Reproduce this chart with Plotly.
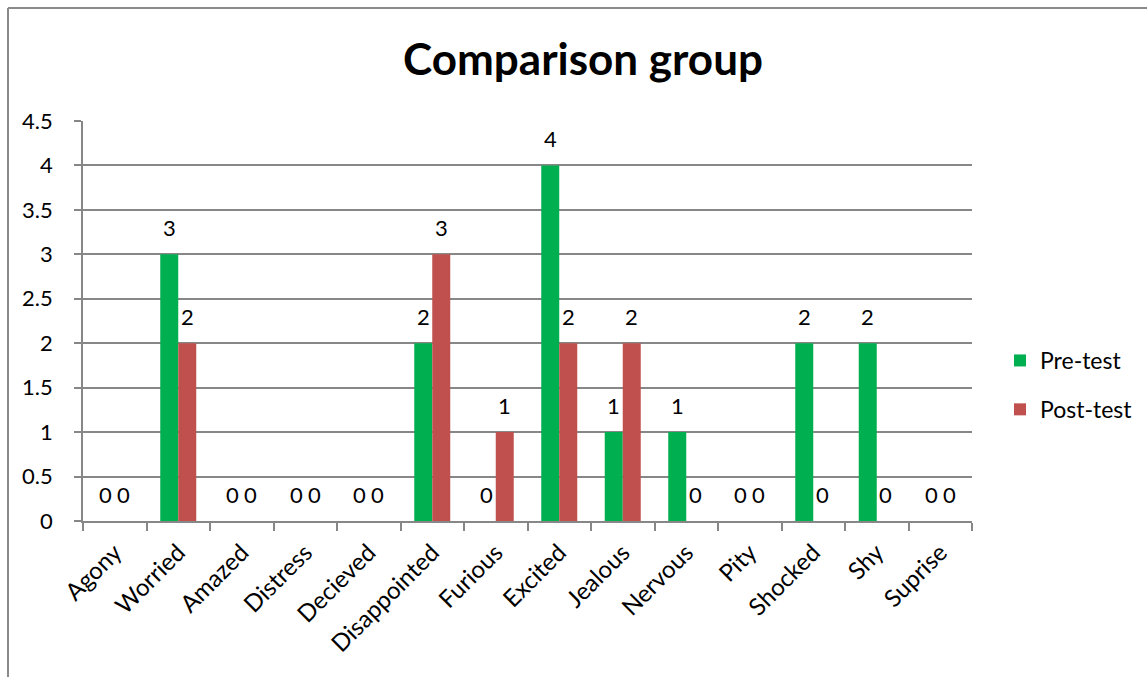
import plotly.graph_objects as go

# Emotion categories and counts for the comparison group
emotions = ["Agony", "Worried", "Amazed", "Distress", "Decieved", "Disappointed",
            "Furious", "Excited", "Jealous", "Nervous", "Pity", "Shocked", "Shy", "Suprise"]
pre_test = [0, 3, 0, 0, 0, 2, 0, 4, 1, 1, 0, 2, 2, 0]
post_test = [0, 2, 0, 0, 0, 3, 1, 2, 2, 0, 0, 0, 0, 0]
y_ticks = [0, 0.5, 1, 1.5, 2, 2.5, 3, 3.5, 4, 4.5]

FONT = "Lato, Carlito, 'Open Sans', sans-serif"
GRID = "#878787"

W, H = 1147, 677
L, R, T, B = 83, 175, 121, 156
pw, ph = W - L - R, H - T - B
BARGAP = 0.433

fig = go.Figure()
fig.add_trace(go.Bar(
    x=emotions, y=pre_test, name="Pre-test", legendgroup="pre",
    marker=dict(color="#00B050", line=dict(width=0)),
))
fig.add_trace(go.Bar(
    x=emotions, y=post_test, name="Post-test", legendgroup="post",
    marker=dict(color="#C0504D", line=dict(width=0)),
))

# Value labels above each bar, shifted to sit over their own bar in the group
cat_px = pw / len(emotions)
half_bar = cat_px * (1 - BARGAP) / 4
for series, shift in ((pre_test, -half_bar), (post_test, half_bar)):
    for cat, val in zip(emotions, series):
        fig.add_annotation(x=cat, y=val, text=str(val), showarrow=False,
                           xshift=shift, yshift=11, yanchor="bottom",
                           font=dict(size=22, color="black", family=FONT))

# Outer chart frame (left and top edges)
fx = (8 - L) / pw
fy = 1 + (T - 8) / ph
fig.add_shape(type="line", xref="paper", yref="paper", x0=fx, x1=fx, y0=fy, y1=-(B + 5) / ph,
              line=dict(color="#8a8a8a", width=2))
fig.add_shape(type="line", xref="paper", yref="paper", x0=fx, x1=(W + 5 - L) / pw, y0=fy, y1=fy,
              line=dict(color="#8a8a8a", width=2))

fig.update_layout(
    width=W, height=H,
    margin=dict(l=L, r=R, t=T, b=B, autoexpand=False),
    paper_bgcolor="white", plot_bgcolor="white",
    barmode="group", bargap=BARGAP, bargroupgap=0,
    title=dict(text="<b>Comparison group</b>", x=583 / W, xanchor="center",
               y=1 - 60 / H, yanchor="middle",
               font=dict(size=44, color="black", family=FONT)),
    font=dict(family=FONT, color="black"),
    legend=dict(x=(1000 - L) / pw, y=(T + ph - 385) / ph,
                yanchor="middle", xanchor="left", traceorder="grouped",
                font=dict(size=23, family=FONT, color="black"),
                itemwidth=30, tracegroupgap=16, bgcolor="rgba(0,0,0,0)"),
    xaxis=dict(
        tickangle=-45, tickfont=dict(size=24, family=FONT, color="black"),
        showline=True, linecolor=GRID, linewidth=2,
        ticks="outside", tickson="boundaries", ticklen=8, tickcolor=GRID, tickwidth=2,
        ticklabelstandoff=6,
        showgrid=False,
    ),
    yaxis=dict(
        range=[0, 4.5], tickvals=y_ticks,
        ticktext=[f"{v:g}\u00a0\u00a0\u00a0" for v in y_ticks],
        tickfont=dict(size=22, family=FONT, color="black"),
        showline=True, linecolor=GRID, linewidth=2,
        ticks="outside", ticklen=7, tickcolor=GRID, tickwidth=2,
        showgrid=True, gridcolor=GRID, gridwidth=1.5, zeroline=False,
    ),
)

fig.write_html("out.html")
